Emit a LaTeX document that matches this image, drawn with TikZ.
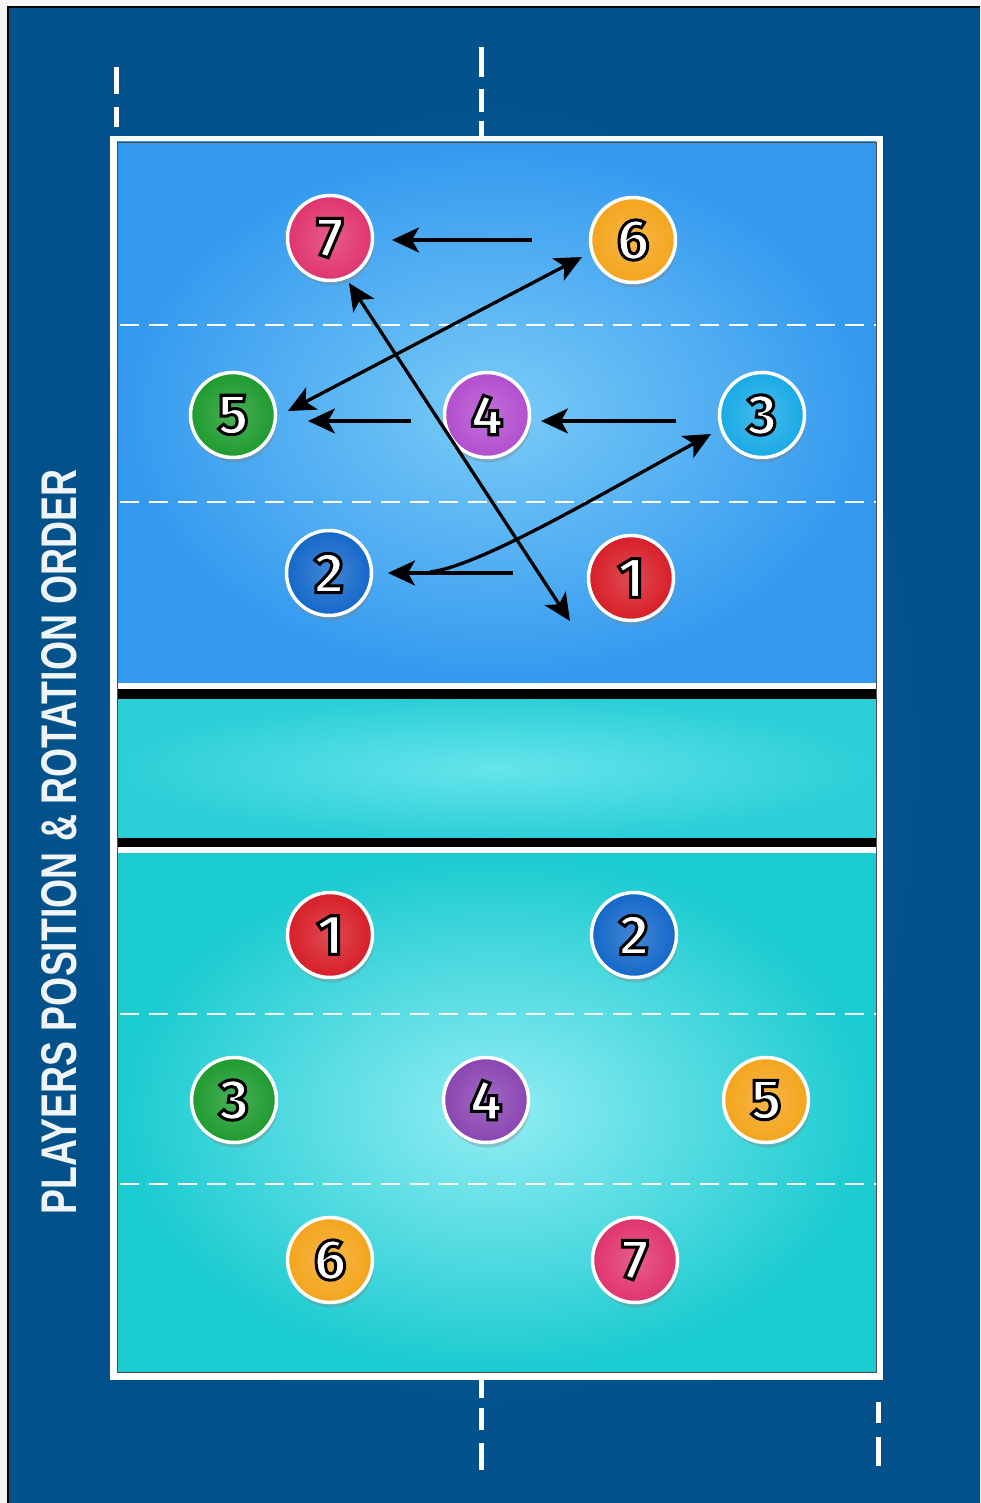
\documentclass[tikz,border=0pt]{standalone}
\usepackage{fontspec}
\setmainfont{Fira Sans}
\newfontfamily\titlefont{Liberation Sans}
\usetikzlibrary{arrows.meta,shadows}
\newcommand\outlinednum[1]{\special{pdf:literal direct 0 G 3 w 2 Tr}#1\special{pdf:literal direct 0 Tr}}
\definecolor{bgblue}{HTML}{075C99}
\definecolor{bgblueedge}{HTML}{03518A}
\definecolor{upin}{HTML}{7ACBF7}
\definecolor{upout}{HTML}{3399EF}
\definecolor{midin}{HTML}{66E4EB}
\definecolor{midout}{HTML}{2CCFD8}
\definecolor{lowin}{HTML}{92EDF4}
\definecolor{lowout}{HTML}{1ACBD0}
\definecolor{pred}{HTML}{D71E28}
\definecolor{pblue}{HTML}{1468C9}
\definecolor{pgreen}{HTML}{1E9B2F}
\definecolor{ppink}{HTML}{E0346E}
\definecolor{porange}{HTML}{F4A51C}
\definecolor{ppurple}{HTML}{B24ECF}
\definecolor{ppurpled}{HTML}{8A45B2}
\definecolor{pcyan}{HTML}{19AAE6}
\begin{document}
\begin{tikzpicture}[x=1pt,y=-1pt,
  player/.style={circle, minimum size=85pt, inner sep=0pt, draw=white, line width=3.5pt,
    inner color=#1!80!white, outer color=#1,
    drop shadow={shadow xshift=1.5pt, shadow yshift=-5pt, opacity=0.35},
    font=\fontsize{57}{57}\selectfont\bfseries, text=white},
  mv/.style={line width=3.3pt, draw=black, -{Stealth[length=27pt,width=25pt,inset=7pt]}},
  mvboth/.style={line width=3.3pt, draw=black, {Stealth[length=27pt,width=25pt,inset=7pt]}-{Stealth[length=27pt,width=25pt,inset=7pt]}},
  zoneline/.style={draw=white, line width=2.8pt, dash pattern=on 19pt off 10pt},
  tickline/.style={draw=white, line width=5pt}]
\useasboundingbox (0,0) rectangle (980,1503);
% page margin and background
\fill[gray!8] (0,0) rectangle (980,1503);
\shade[inner color=bgblue, outer color=bgblueedge] (8,7) rectangle (980,1503);
\draw[black, line width=1.2pt] (980,7) -- (8,7) -- (8,1503);
% outer ticks
\draw[tickline] (116,67) -- (116,94);
\draw[tickline] (116,107) -- (116,127);
\draw[tickline] (481,47) -- (481,77);
\draw[tickline] (481,89) -- (481,112);
\draw[tickline] (481,121) -- (481,137);
\draw[tickline] (481,1379) -- (481,1398);
\draw[tickline] (481,1408) -- (481,1430);
\draw[tickline] (481,1443) -- (481,1470);
\draw[tickline] (878,1402) -- (878,1423);
\draw[tickline] (878,1437) -- (878,1466);
% court
\fill[white] (110,136) rectangle (883,1380);
\shade[inner color=upin, outer color=upout] (117,142) rectangle (876,683);
\shade[inner color=midin, outer color=midout] (117,699) rectangle (876,838);
\shade[inner color=lowin, outer color=lowout] (117,853) rectangle (876,1372);
\fill[white] (117,683) rectangle (876,689);
\fill[black] (117,689) rectangle (876,699);
\fill[black] (117,838) rectangle (876,847);
\fill[white] (117,847) rectangle (876,853);
\draw[black!70, line width=0.8pt] (117,142) rectangle (876,1372);
% zone lines
\draw[zoneline] (120,325) -- (876,325);
\draw[zoneline] (120,502) -- (876,502);
\draw[zoneline] (120,1014) -- (876,1014);
\draw[zoneline] (120,1184) -- (876,1184);
% title
\node[rotate=90, text=white!94!bgblue] (title) at (59,842) {\titlefont\bfseries\resizebox{745pt}{35pt}{PLAYERS POSITION \& ROTATION ORDER}};
% upper players
\node[player=ppink] (u7) at (330,238) {\outlinednum{7}};
\node[player=porange] (u6) at (633,240) {\outlinednum{6}};
\node[player=pgreen] (u5) at (233,415) {\outlinednum{5}};
\node[player=ppurple] (u4) at (487,415) {\outlinednum{4}};
\node[player=pcyan] (u3) at (762,415) {\outlinednum{3}};
\node[player=pblue] (u2) at (329,573) {\outlinednum{2}};
\node[player=pred] (u1) at (631,578) {\outlinednum{1}};
% lower players
\node[player=pred] (l1) at (330,935) {\outlinednum{1}};
\node[player=pblue] (l2) at (634,935) {\outlinednum{2}};
\node[player=pgreen] (l3) at (234,1100) {\outlinednum{3}};
\node[player=ppurpled] (l4) at (486,1100) {\outlinednum{4}};
\node[player=porange] (l5) at (766,1100) {\outlinednum{5}};
\node[player=porange] (l6) at (330,1260) {\outlinednum{6}};
\node[player=ppink] (l7) at (635,1260) {\outlinednum{7}};
% arrow end points
\coordinate (a67s) at (532,240);
\coordinate (a67e) at (392,240);
\coordinate (a34s) at (676,421);
\coordinate (a34e) at (541,421);
\coordinate (a45s) at (411,421);
\coordinate (a45e) at (308,421);
\coordinate (a71s) at (349,283);
\coordinate (a71e) at (570,621);
\coordinate (a56s) at (288,411);
\coordinate (a56e) at (582,257);
\coordinate (a2s) at (513,573);
\coordinate (a2e) at (388,573);
\coordinate (c3s) at (430,572);
\coordinate (c3e) at (711,434);
% arrows
\draw[mv] (a67s) -- (a67e);
\draw[mv] (a34s) -- (a34e);
\draw[mv] (a45s) -- (a45e);
\draw[mvboth] (a71s) -- (a71e);
\draw[mvboth] (a56s) -- (a56e);
\draw[mv] (a2s) -- (a2e);
\draw[mv] (c3s) .. controls (480,566) and (600,495) .. (c3e);
\end{tikzpicture}
\end{document}
